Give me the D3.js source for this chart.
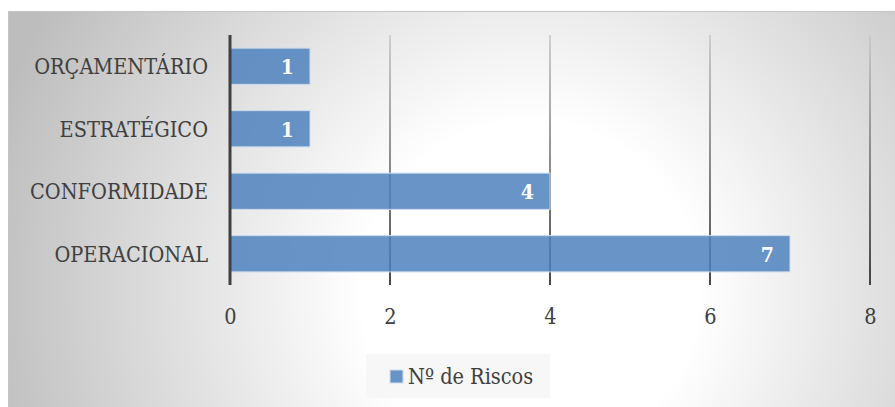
<!DOCTYPE html>
<html><head><meta charset="utf-8">
<script src="https://cdn.jsdelivr.net/npm/d3@7"></script>
<style>body{margin:0;background:#fff}svg{display:block}</style>
</head><body>
<script>
const categories = ["ORÇAMENTÁRIO","ESTRATÉGICO","CONFORMIDADE","OPERACIONAL"];
const values = [1,1,4,7];
const tickValues = [0,2,4,6,8];
const seriesName = "Nº de Riscos";

const W=895,H=407;
const svg=d3.select("body").append("svg").attr("width",W).attr("height",H);
const defs=svg.append("defs");
const rg=defs.append("radialGradient").attr("id","bg").attr("gradientUnits","userSpaceOnUse")
  .attr("cx",530).attr("cy",290).attr("r",560);
rg.append("stop").attr("offset",0).attr("stop-color","#ffffff");
rg.append("stop").attr("offset",0.3).attr("stop-color","#ffffff");
rg.append("stop").attr("offset",1).attr("stop-color","#bdbdbd");
const lg=defs.append("linearGradient").attr("id","grid").attr("gradientUnits","userSpaceOnUse")
  .attr("x1",0).attr("y1",35).attr("x2",0).attr("y2",285);
lg.append("stop").attr("offset",0).attr("stop-color","#c8c8c8");
lg.append("stop").attr("offset",1).attr("stop-color","#1a1a1a");

svg.append("rect").attr("x",8.5).attr("y",11.5).attr("width",W).attr("height",H)
  .attr("fill","url(#bg)").attr("stroke","#c4c4c4").attr("stroke-width",1);

const font="'DejaVu Serif Condensed', 'DejaVu Serif', serif";
const x=d3.scaleLinear().domain([0,8]).range([230,870]);
const y=d3.scaleBand().domain(categories).range([35,285]).paddingInner(0.42).paddingOuter(0.21);

// gridlines
svg.append("g").selectAll("line").data(tickValues.filter(d=>d>0)).join("line")
  .attr("x1",d=>x(d)).attr("x2",d=>x(d)).attr("y1",35).attr("y2",285)
  .attr("stroke","url(#grid)").attr("stroke-width",1.6);

// bars
svg.append("g").selectAll("rect").data(values).join("rect")
  .attr("x",x(0)).attr("y",(d,i)=>y(categories[i]))
  .attr("width",d=>x(d)-x(0)).attr("height",y.bandwidth())
  .attr("fill","#4F81BD").attr("fill-opacity",0.85)
  .attr("stroke","#d0dcee").attr("stroke-width",1);

// axis line at 0
svg.append("line").attr("x1",x(0)).attr("x2",x(0)).attr("y1",35).attr("y2",285)
  .attr("stroke","#404040").attr("stroke-width",3);

// value labels
svg.append("g").selectAll("text").data(values).join("text")
  .attr("x",d=>x(d)-16).attr("y",(d,i)=>y(categories[i])+y.bandwidth()/2+8)
  .attr("text-anchor","end").attr("font-family",font).attr("font-stretch","condensed").attr("font-weight","bold")
  .attr("font-size",21).attr("fill","#ffffff").text(d=>d);

// category labels
const yAxis=d3.axisLeft(y).tickSize(0).tickPadding(0);
const ga=svg.append("g").attr("transform","translate(208,0)").call(yAxis);
ga.select(".domain").remove();
ga.selectAll("text").attr("font-family",font).attr("font-stretch","condensed").attr("font-size",21.5).attr("fill","#404040")
  .attr("dy","0.36em").attr("x",0);

// x tick labels
const xAxis=d3.axisBottom(x).tickValues(tickValues).tickSize(0).tickPadding(0);
const gx=svg.append("g").attr("transform","translate(0,324)").call(xAxis);
gx.select(".domain").remove();
gx.selectAll("text").attr("font-family",font).attr("font-stretch","condensed").attr("font-size",21.5).attr("fill","#404040").attr("dy",0);

// legend
const leg=svg.append("g");
leg.append("rect").attr("x",366).attr("y",354).attr("width",184).attr("height",44).attr("fill","#f7f7f7");
leg.append("rect").attr("x",390).attr("y",370).attr("width",13).attr("height",13)
  .attr("fill","#4F81BD").attr("fill-opacity",0.85).attr("stroke","#d0dcee");
leg.append("text").attr("x",408).attr("y",384).attr("font-family",font).attr("font-stretch","condensed").attr("font-size",21.5)
  .attr("fill","#404040").text(seriesName);
</script>
</body></html>
